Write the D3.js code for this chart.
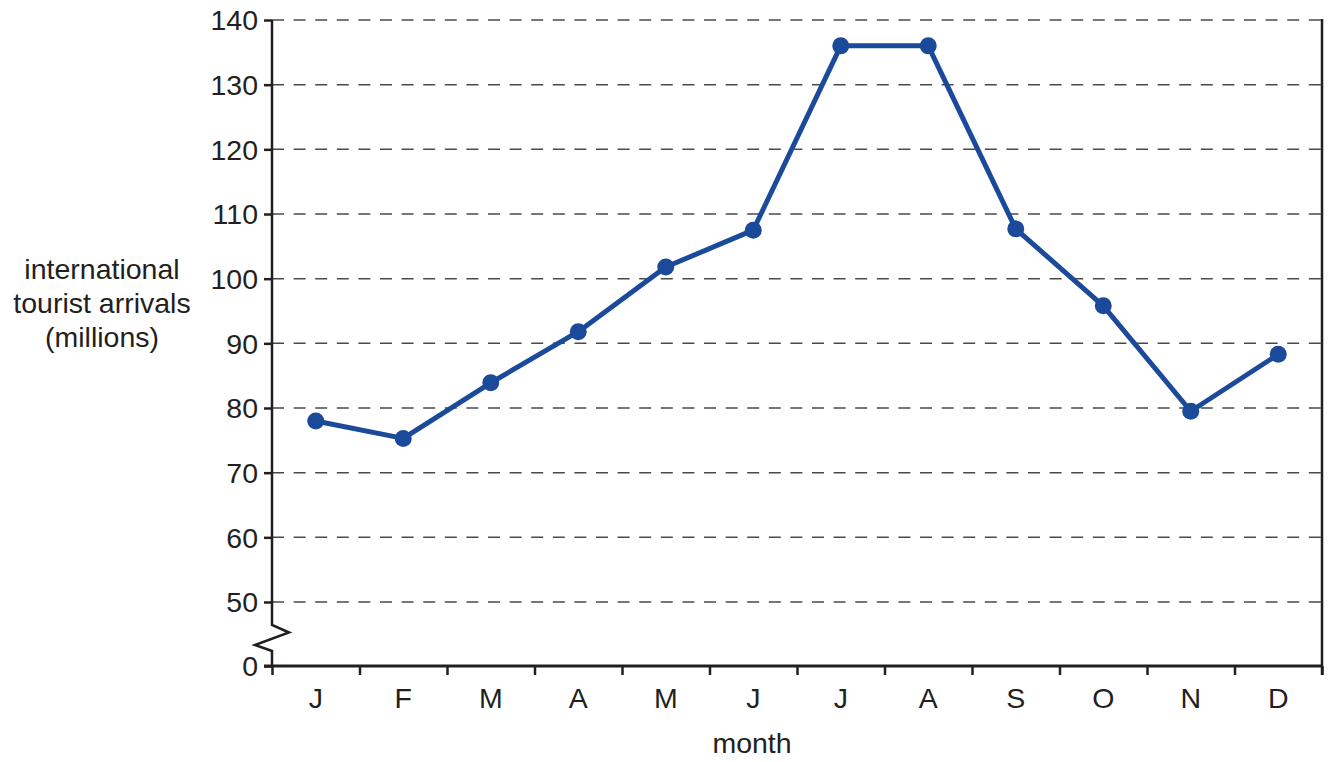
<!DOCTYPE html>
<html>
<head>
<meta charset="utf-8">
<script src="https://cdn.jsdelivr.net/npm/d3@7"></script>
<style>
  html, body { margin: 0; padding: 0; background: #fff; }
  svg { display: block; font-family: "Liberation Sans", Arial, sans-serif; }
</style>
</head>
<body>
<svg id="chart" width="1330" height="762"></svg>
<script>
const months = ["J","F","M","A","M","J","J","A","S","O","N","D"];
const arrivals = [78, 75.3, 83.9, 91.8, 101.8, 107.5, 136, 136, 107.7, 95.8, 79.5, 88.3];
const yTickValues = [0, 50, 60, 70, 80, 90, 100, 110, 120, 130, 140];
const yTitleLines = ["international", "tourist arrivals", "(millions)"];
const xTitle = "month";

(function () {
const svg = d3.select("#chart");
const pL = 272, pR = 1322, pT = 20, pB = 666;
const ink = "#231f20";
const lineColor = "#1b4a9b";
const fs = "28.5px";

// piecewise scale with axis break between 0 and 50
const y = d3.scaleLinear().domain([0, 50, 140]).range([pB, 602, pT]);
const x = d3.scaleLinear().domain([0, months.length]).range([pL, pR]);

// grid lines
svg.append("g").selectAll("line")
  .data(yTickValues.filter(v => v > 0))
  .join("line")
  .attr("x1", pL).attr("x2", pR)
  .attr("y1", d => y(d)).attr("y2", d => y(d))
  .attr("stroke", "#4a4a4a").attr("stroke-width", 1.5)
  .attr("stroke-dasharray", "12,9.6");

// left axis ticks + labels
const yAxis = d3.axisLeft(y).tickValues(yTickValues).tickSize(8).tickPadding(6);
const gy = svg.append("g").attr("transform", `translate(${pL},0)`).call(yAxis);
gy.select(".domain").remove();
gy.selectAll(".tick line").attr("stroke", ink).attr("stroke-width", 2.5);
gy.selectAll(".tick text").attr("fill", ink).style("font-size", fs)
  .attr("font-family", "Liberation Sans, Arial, sans-serif").attr("dy", "0.35em");

// left axis line with break zigzag
const yBreakTop = 625;
svg.append("path")
  .attr("d", `M${pL},${pT} L${pL},${yBreakTop} L${pL + 17},${yBreakTop + 7.5} L${pL - 17},${yBreakTop + 20} L${pL},${yBreakTop + 26} L${pL},${pB}`)
  .attr("fill", "none").attr("stroke", ink).attr("stroke-width", 2.5)
  .attr("stroke-linejoin", "miter");

// right axis line
svg.append("line").attr("x1", pR).attr("x2", pR)
  .attr("y1", pT - 1).attr("y2", pB + 9)
  .attr("stroke", ink).attr("stroke-width", 2.5);

// bottom axis
const xAxis = d3.axisBottom(x).tickValues(d3.range(months.length + 1)).tickSize(9).tickFormat("");
const gx = svg.append("g").attr("transform", `translate(0,${pB})`).call(xAxis);
gx.select(".domain").attr("stroke", ink).attr("stroke-width", 3).attr("d", `M${pL - 8},0H${pR}`);
gx.selectAll(".tick line").attr("stroke", ink).attr("stroke-width", 2.5);

// month labels
svg.append("g").selectAll("text")
  .data(months)
  .join("text")
  .attr("x", (d, i) => x(i + 0.5))
  .attr("y", 708)
  .attr("text-anchor", "middle")
  .attr("fill", ink)
  .style("font-size", fs)
  .text(d => d);

// x title
svg.append("text").attr("x", 752).attr("y", 753)
  .attr("text-anchor", "middle").attr("fill", ink).style("font-size", fs).text(xTitle);

// y title
svg.append("g").selectAll("text")
  .data(yTitleLines)
  .join("text")
  .attr("x", 102)
  .attr("y", (d, i) => 279 + i * 34)
  .attr("text-anchor", "middle")
  .attr("fill", ink)
  .style("font-size", fs)
  .text(d => d);

// data line
const line = d3.line().x((d, i) => x(i + 0.5)).y(d => y(d));
svg.append("path").datum(arrivals)
  .attr("d", line)
  .attr("fill", "none").attr("stroke", lineColor).attr("stroke-width", 5)
  .attr("stroke-linejoin", "round");

svg.append("g").selectAll("circle")
  .data(arrivals)
  .join("circle")
  .attr("cx", (d, i) => x(i + 0.5))
  .attr("cy", d => y(d))
  .attr("r", 8.5)
  .attr("fill", lineColor);
})();
</script>
</body>
</html>
